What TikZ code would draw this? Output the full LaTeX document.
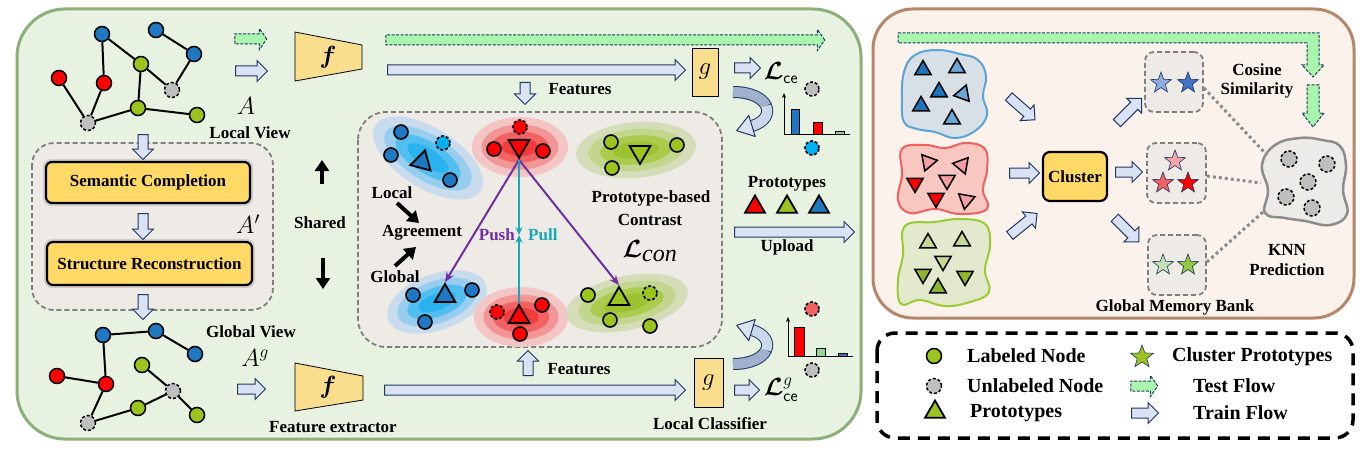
\documentclass[tikz,border=0pt]{standalone}
\usepackage{fontspec}
\setmainfont{Liberation Serif}
\usepackage{amsmath,bm}
\usetikzlibrary{shapes.arrows,shapes.geometric,arrows.meta,calc}
\definecolor{pgfill}{HTML}{E8F2E1}
\definecolor{pgline}{HTML}{8DB07A}
\definecolor{pbfill}{HTML}{FBF2EC}
\definecolor{pbline}{HTML}{B5866A}
\definecolor{navy}{HTML}{203864}
\definecolor{trainfill}{HTML}{DAE3F3}
\definecolor{testfill}{HTML}{A9F5AE}
\definecolor{ybox}{HTML}{FFD966}
\definecolor{fbox}{HTML}{F8DE8D}
\definecolor{boxgray}{HTML}{EEEAE5}
\definecolor{dgray}{HTML}{7F7F7F}
\definecolor{nblue}{HTML}{1F78C1}
\definecolor{nred}{HTML}{FF0000}
\definecolor{ngreen}{HTML}{9CC41E}
\definecolor{ngray}{HTML}{BFBFBF}
\definecolor{ncyan}{HTML}{00B0F0}
\definecolor{bluea}{HTML}{C8DCEE}
\definecolor{blueb}{HTML}{97CDEF}
\definecolor{bluec}{HTML}{52BEEF}
\definecolor{blued}{HTML}{2AB2EE}
\definecolor{reda}{HTML}{F3C5C5}
\definecolor{redb}{HTML}{F19595}
\definecolor{redc}{HTML}{F26262}
\definecolor{redd}{HTML}{F23C3C}
\definecolor{greena}{HTML}{D5DDB8}
\definecolor{greenb}{HTML}{C2D68E}
\definecolor{greenc}{HTML}{ABCB4E}
\definecolor{greend}{HTML}{9CC32F}
\definecolor{purp}{HTML}{7030A0}
\definecolor{tealc}{HTML}{17A9B8}
\definecolor{banddark}{HTML}{9FB1CD}
\definecolor{bandlight}{HTML}{CBD7EA}
\definecolor{lgreen}{HTML}{92D892}
\definecolor{mblue}{HTML}{4472C4}
\definecolor{lblue}{HTML}{8FAADC}
\definecolor{tdblue}{HTML}{1C75BC}
\definecolor{tlblue}{HTML}{6BA6D4}
\definecolor{tlred}{HTML}{F4A0A0}
\definecolor{tdgreen}{HTML}{8DB52D}
\definecolor{tlgreen}{HTML}{C4D88E}
\definecolor{blobblue}{HTML}{D6E0E6}
\definecolor{blobblueline}{HTML}{5BA3D9}
\definecolor{blobred}{HTML}{F8C8C0}
\definecolor{blobredline}{HTML}{F06060}
\definecolor{blobgreen}{HTML}{E2E9CC}
\definecolor{blobgreenline}{HTML}{99CC33}
\definecolor{knnfill}{HTML}{EDEBE8}
\definecolor{knnline}{HTML}{8C8C8C}
\definecolor{lstar}{HTML}{F4A6A6}
\definecolor{mstar}{HTML}{F06060}
\definecolor{lgstar}{HTML}{C5E0B4}
\definecolor{gstar}{HTML}{92C83E}
\definecolor{pinkc}{HTML}{F06464}
\tikzset{
 lbl/.style={font=\fontsize{17}{19}\selectfont\bfseries, inner sep=0},
 leg/.style={font=\fontsize{20}{22}\selectfont\bfseries, inner sep=0, anchor=west},
 gn/.style={circle, draw=black, line width=1.5, minimum size=15, inner sep=0},
 un/.style={gn, fill=ngray, dash pattern=on 3pt off 2pt},
 edge/.style={line width=2},
 cn/.style={circle, draw=black, line width=1.6, minimum size=14, inner sep=0},
 dn/.style={cn, dash pattern=on 3pt off 2pt},
 trainar/.style={single arrow, draw=navy, fill=trainfill, line width=1, inner sep=0, inner ysep=4.5, text height=0pt, text depth=0pt, single arrow head extend=5.5, single arrow tip angle=90},
 testar/.style={trainar, fill=testfill, dash pattern=on 3pt off 1.5pt, single arrow tip angle=110},
 tri/.style={regular polygon, regular polygon sides=3, draw=black, line width=1.8, inner sep=0, minimum size=24},
 rtri/.style={tri, minimum size=19, line width=1.5},
 starn/.style={star, star points=5, star point ratio=2.4, draw=navy, line width=0.6, inner sep=0, minimum size=22},
 dbox/.style={draw=dgray, dash pattern=on 5pt off 3pt, line width=1.8, fill=boxgray},
 ybx/.style={draw=black, fill=ybox, line width=2.2, rounded corners=6, inner sep=0},
 fg/.style={draw=black, fill=fbox, line width=0.8, inner sep=0},
 mth/.style={inner sep=0, font=\fontsize{27}{27}\selectfont},
 lossl/.style={inner sep=0, font=\fontsize{24}{24}\selectfont},
 bigar/.style={line width=4, -{Triangle[length=11,width=14]}},
 dotl/.style={knnline, line width=3, dash pattern=on 3pt off 3pt}
}
\newcommand\arr[6]{\node[#1, minimum height=#5, rotate=#6] (#2) at (#3,#4) {};}
\newcommand\clus[6]{\begin{scope}[shift={(#1,#2)},rotate=#5]
\fill[#6a] (0,0) ellipse [x radius=#3, y radius=#4];
\fill[#6b] (0,0) ellipse [x radius=0.8*#3, y radius=0.75*#4];
\fill[#6c] (0,0) ellipse [x radius=0.6*#3, y radius=0.52*#4];
\fill[#6d] (0,0) ellipse [x radius=0.38*#3, y radius=0.3*#4];
\end{scope}}
\newcommand\cesub{\text{\fontsize{17}{17}\selectfont\sffamily ce}}
\begin{document}
\begin{tikzpicture}[x=1pt,y=-1pt]
\useasboundingbox (0,0) rectangle (1366,452);
\fill[white] (0,0) rectangle (1366,452);
% panels
\draw[pgline, line width=3, fill=pgfill, rounded corners=48] (17,9) rectangle (861,439);
\draw[pbline, line width=3, fill=pbfill, rounded corners=40] (873,9) rectangle (1354,318);
\draw[black, line width=3.5, dash pattern=on 12pt off 8pt, rounded corners=18] (877,333) rectangle (1353,438);

% ---------- top local graph
\node[gn,fill=nblue] (tb1) at (102,34) {};
\node[gn,fill=nblue] (tb2) at (156,30) {};
\node[gn,fill=nblue] (tb3) at (194,54) {};
\node[gn,fill=ngreen] (tg1) at (141,64) {};
\node[gn,fill=nred] (tr1) at (59,78) {};
\node[gn,fill=nred] (tr2) at (104,83) {};
\node[un] (tu1) at (172,90) {};
\node[gn,fill=ngreen] (tg2) at (138,108) {};
\node[gn,fill=ngreen] (tg3) at (197,115) {};
\node[un] (tu2) at (88,123) {};
\draw[edge] (tb1)--(tg1) (tb1)--(tr2) (tg1)--(tu1) (tu1)--(tb3) (tb3)--(tb2) (tg1)--(tg2) (tg2)--(tg3) (tg2)--(tu2) (tu2)--(tr2) (tu2)--(tr1);
\node[mth] (mA) at (246,106) {$A$};
\node[lbl] (lv) at (250,133) {Local View};

% ---------- bottom global graph
\node[gn,fill=nblue] (bb1) at (103,335) {};
\node[gn,fill=nblue] (bb2) at (156,331) {};
\node[gn,fill=nblue] (bb3) at (195,354) {};
\node[gn,fill=nred] (br1) at (57,376) {};
\node[gn,fill=nred] (br2) at (106,384) {};
\node[gn,fill=ngreen] (bg1) at (142,365) {};
\node[un] (bu1) at (173,391) {};
\node[gn,fill=ngreen] (bg2) at (138,408) {};
\node[gn,fill=ngreen] (bg3) at (197,415) {};
\node[un] (bu2) at (88,423) {};
\draw[edge] (bb1)--(bb2) (bb2)--(bb3) (bb1)--(br2) (br1)--(br2) (br2)--(bu2) (bu2)--(bg2) (bg2)--(bu1) (bu1)--(bg1) (bu1)--(bg3);
\node[lbl] (gv) at (251,332) {Global View};
\node[mth] (mAg) at (255,358) {$A^{g}$};

% ---------- left middle box
\draw[dbox, rounded corners=22] (32,143) rectangle (273,310);
\fill[black, opacity=0.12, rounded corners=8] (43,159) rectangle (253,206);
\fill[black, opacity=0.12, rounded corners=8] (44,239) rectangle (255,288);
\node[ybx, minimum width=204, minimum height=41, lbl] (sc) at (148,182.5) {Semantic Completion};
\node[ybx, minimum width=205, minimum height=43, lbl] (sr) at (149.5,263.5) {Structure Reconstruction};
\node[mth] (mAp) at (248,224) {$A'$};
\arr{trainar}{d1}{143}{144.5}{25}{-90}
\arr{trainar}{d2}{143}{224}{26}{-90}
\arr{trainar}{d3}{143}{304.5}{25}{-90}

% ---------- shared
\node[lbl] (sh) at (320,223) {Shared};
\coordinate (sha1) at (322,184);
\coordinate (sha2) at (322,160);
\coordinate (shb1) at (323,258);
\coordinate (shb2) at (323,289);
\draw[bigar] (sha1) -- (sha2);
\draw[bigar] (shb1) -- (shb2);

% ---------- f extractors
\draw[fg] (295,32) -- (362,45) -- (362,69) -- (295,81) -- cycle;
\node[inner sep=0, font=\fontsize{28}{28}\selectfont] (f1) at (328,57) {$\bm{f}$};
\draw[fg] (295,363) -- (363,376) -- (363,400) -- (295,411) -- cycle;
\node[inner sep=0, font=\fontsize{28}{28}\selectfont] (f2) at (328,387) {$\bm{f}$};
\node[lbl] (fe) at (333,427) {Feature extractor};

% ---------- flows
\arr{testar}{ta1}{249}{39}{32}{0}
\arr{trainar}{a1}{249}{71}{32}{0}
\arr{trainar}{a2}{249}{389}{28}{0}
\arr{testar}{ta2}{603.5}{40}{439}{0}
\arr{trainar}{a3}{534}{70}{298}{0}
\arr{trainar}{a4}{532.5}{390}{301}{0}
\arr{trainar}{a5}{745}{68}{26}{0}
\arr{trainar}{a6}{744.5}{390}{25}{0}
\arr{trainar}{a7}{525}{91}{22}{-90}
\arr{trainar}{a8}{528}{365.5}{25}{90}
\arr{trainar}{a9}{792}{232}{120}{0}
\node[lbl] (ft1) at (580,89) {Features};
\node[lbl] (ft2) at (579,369) {Features};

% ---------- g classifiers
\node[fg, minimum width=26, minimum height=48, font=\fontsize{23}{23}\selectfont] (g1) at (705,72) {$g$};
\node[fg, minimum width=29, minimum height=49, font=\fontsize{23}{23}\selectfont] (g2) at (708.5,382.5) {$g$};
\node[lossl] (lce) at (781,73) {$\bm{\mathcal{L}}_{\cesub}$};
\node[lossl] (lceg) at (781,390) {$\bm{\mathcal{L}}^{\text{\fontsize{18}{18}\selectfont$g$}}_{\cesub}$};
\node[lbl] (lc) at (710,424) {Local Classifier};

% ---------- curved arrows
\draw[navy, line width=12] (733,92) .. controls (770,92) and (778,118) .. (752,126);
\draw[banddark, line width=10] (733,92) .. controls (751.5,92) and (762.75,98.5) .. (766.125,106);
\draw[bandlight, line width=10] (766.125,106) .. controls (769.5,113.5) and (765,122) .. (752,126);
\draw[navy, fill=trainfill, line width=1, line join=round] (736.7,130.7) -- (755.2,136.5) -- (748.8,115.5) -- cycle;
\draw[navy, line width=12] (733,364) .. controls (770,364) and (778,338) .. (752,330);
\draw[banddark, line width=10] (733,364) .. controls (751.5,364) and (762.75,357.5) .. (766.125,350);
\draw[bandlight, line width=10] (766.125,350) .. controls (769.5,342.5) and (765,334) .. (752,330);
\draw[navy, fill=trainfill, line width=1, line join=round] (736.7,325.3) -- (755.2,319.5) -- (748.8,340.5) -- cycle;

% ---------- bar charts
\draw[line width=1, -{Stealth[length=5,width=4]}] (784,134) -- (784,93);
\draw[line width=1] (784,134) -- (850,134);
\draw[fill=nblue, line width=0.7] (791,134) rectangle (799,109);
\draw[fill=nred, line width=0.7] (813,134) rectangle (822,122);
\draw[fill=lgreen, line width=0.7] (835,134) rectangle (844,131);
\node[un, minimum size=14] (bc1) at (812,89) {};
\node[dn, fill=ncyan] (bc2) at (812,148) {};
\draw[line width=1, -{Stealth[length=5,width=4]}] (788,356) -- (788,317);
\draw[line width=1] (788,356) -- (853,356);
\draw[fill=nred, line width=0.7] (794,356) rectangle (804,327);
\draw[fill=lgreen, line width=0.7] (816,356) rectangle (825,348);
\draw[fill=mblue, line width=0.7] (838,356) rectangle (847,353);
\node[dn, fill=pinkc] (bc3) at (812,309) {};
\node[un, minimum size=14] (bc4) at (812,370) {};

% ---------- prototypes / upload
\node[lbl] (pt) at (787,184) {Prototypes};
\node[tri, fill=nred, minimum size=23] (p1) at (755,207) {};
\node[tri, fill=ngreen, minimum size=23] (p2) at (787,207) {};
\node[tri, fill=nblue, minimum size=23] (p3) at (819,207) {};
\node[lbl] (up) at (787,247) {Upload};

% ---------- center contrast box
\draw[dbox, rounded corners=28] (358,112) rectangle (722,347);
\clus{428}{158}{62}{30}{-32}{blue}
\clus{520}{147}{48}{30}{0}{red}
\clus{636}{150}{60}{28}{5}{green}
\clus{437}{302}{52}{28}{20}{blue}
\clus{521}{317}{47}{30}{0}{red}
\clus{627}{303}{62}{27}{12}{green}
% top-left blue
\node[cn, fill=nblue] (c1) at (401,132) {};
\node[cn, fill=nblue] (c2) at (391,155) {};
\node[cn, fill=nblue] (c3) at (450,180) {};
\node[dn, fill=ncyan] (c4) at (443,143) {};
\node[tri, fill=nblue, rotate=105] (ttl) at (422,162) {};
% top-mid red
\node[dn, fill=nred] (c5) at (520,127) {};
\node[cn, fill=nred] (c6) at (494,149) {};
\node[cn, fill=nred] (c7) at (543,151) {};
\node[tri, fill=nred, rotate=180] (ttm) at (519,146) {};
% top-right green
\node[cn, fill=ngreen] (c8) at (611,142) {};
\node[cn, fill=ngreen] (c9) at (677,145) {};
\node[cn, fill=ngreen] (c10) at (612,168) {};
\node[tri, fill=ngreen, rotate=180] (ttr) at (640,152) {};
% bottom-left blue
\node[cn, fill=nblue] (c11) at (413,295) {};
\node[cn, fill=nblue] (c12) at (472,290) {};
\node[cn, fill=nblue] (c13) at (425,322) {};
\node[tri, fill=nblue] (tbl) at (445,296) {};
% bottom-mid red
\node[dn, fill=nred] (c14) at (497,312) {};
\node[cn, fill=nred] (c15) at (542,305) {};
\node[cn, fill=nred] (c16) at (520,334) {};
\node[tri, fill=nred] (tbm) at (519,317) {};
% bottom-right green
\node[cn, fill=ngreen] (c17) at (588,295) {};
\node[dn, fill=ngreen] (c18) at (650,293) {};
\node[cn, fill=ngreen] (c19) at (610,320) {};
\node[cn, fill=ngreen] (c20) at (650,326) {};
\node[tri, fill=ngreen] (tbr) at (619,299) {};
% push / pull
\coordinate (mid) at (519,235);
\draw[purp, line width=2, -{Stealth[length=10,width=8]}] (ttm.corner 1) -- (tbl.corner 1);
\draw[purp, line width=2, -{Stealth[length=10,width=8]}] (ttm.corner 1) -- (tbr.corner 1);
\draw[tealc, line width=2.5, -{Stealth[length=8,width=7]}] (ttm.corner 1) -- (mid);
\draw[tealc, line width=2.5, -{Stealth[length=8,width=7]}] (tbm.corner 1) -- (mid);
\node[lbl, text=purp, anchor=east] (push) at (515,235) {Push};
\node[lbl, text=tealc, anchor=west] (pull) at (528,235) {Pull};
\node[lbl] (loc) at (392,193) {Local};
\node[lbl] (agr) at (422,233) {Agreement};
\node[lbl] (glo) at (395,277) {Global};
\coordinate (la1) at (397,203);
\coordinate (la2) at (419,223);
\coordinate (ga1) at (395,266);
\coordinate (ga2) at (416,247);
\draw[bigar] (la1) -- (la2);
\draw[bigar] (ga1) -- (ga2);
\node[lbl] (pbc) at (651,198) {Prototype-based};
\node[lbl] (con) at (650,220) {Contrast};
\node[lossl] (lcon) at (650,251) {$\bm{\mathcal{L}}_{\textstyle\mathit{con}}$};

% ---------- right panel
\draw[navy, dash pattern=on 3pt off 1.5pt, line width=1, fill=testfill] (898,33) -- (1319,33) -- (1319,65) -- (1324,65) -- (1313,77) -- (1302,65) -- (1307,65) -- (1307,43) -- (898,43) -- cycle;
\draw[navy, dash pattern=on 3pt off 1.5pt, line width=1, fill=testfill] (1307,85) -- (1319,85) -- (1319,113) -- (1324,113) -- (1313,127) -- (1302,113) -- (1307,113) -- cycle;
\node[lbl] (cs1) at (1257,70) {Cosine};
\node[lbl] (cs2) at (1257,90) {Similarity};
% blobs
\draw[blobblueline, line width=2, fill=blobblue] plot[smooth cycle, tension=0.7] coordinates {(915,55) (937,50) (960,54) (978,60) (986,76) (983,96) (987,115) (975,131) (955,138) (935,132) (917,129) (904,122) (902,100) (904,72)};
\node[rtri, fill=tdblue] (bt1) at (923,70) {};
\node[rtri, fill=tlblue] (bt2) at (957,68) {};
\node[rtri, fill=tdblue] (bt3) at (939,92) {};
\node[rtri, fill=tlblue, rotate=100] (bt4) at (963,94) {};
\node[rtri, fill=tdblue] (bt5) at (921,106) {};
\node[rtri, fill=tlblue] (bt6) at (952,119) {};
\draw[blobredline, line width=2, fill=blobred] plot[smooth cycle, tension=0.7] coordinates {(902,149) (925,145) (945,148) (966,143) (985,149) (987,170) (983,190) (987,209) (960,214) (935,209) (910,213) (898,200) (902,175)};
\node[rtri, fill=tlred, rotate=160] (rt1) at (928,162) {};
\node[rtri, fill=tlred, rotate=200] (rt2) at (962,165) {};
\node[rtri, fill=nred, rotate=180] (rt3) at (915,183) {};
\node[rtri, fill=tlred, rotate=180] (rt4) at (947,180) {};
\node[rtri, fill=nred, rotate=180] (rt5) at (936,198) {};
\node[rtri, fill=tlred, rotate=170] (rt6) at (966,200) {};
\draw[blobgreenline, line width=2, fill=blobgreen] plot[smooth cycle, tension=0.7] coordinates {(905,226) (935,222) (960,219) (985,224) (990,245) (985,270) (989,292) (970,302) (945,306) (920,300) (901,304) (898,280) (903,255)};
\node[rtri, fill=tlgreen] (gt1) at (928,243) {};
\node[rtri, fill=tlgreen] (gt2) at (962,241) {};
\node[rtri, fill=tlgreen, rotate=180] (gt3) at (943,261) {};
\node[rtri, fill=tdgreen, rotate=180] (gt4) at (923,274) {};
\node[rtri, fill=tdgreen, rotate=180] (gt5) at (965,276) {};
\node[rtri, fill=tdgreen] (gt6) at (938,288) {};
% cluster
\node[ybx, minimum width=64, minimum height=49, lbl, rounded corners=7] (clu) at (1075,176.5) {Cluster};
\arr{trainar}{r1}{1020}{106.5}{35}{-41.5}
\arr{trainar}{r2}{1022}{173}{30}{0}
\arr{trainar}{r3}{1021.5}{226}{35}{39}
\arr{trainar}{r4}{1127.5}{112.5}{35}{45}
\arr{trainar}{r5}{1126.5}{172}{27}{0}
\arr{trainar}{r6}{1125}{228}{34}{-45}
% star boxes
\node[dbox, rounded corners=9, minimum width=58, minimum height=60, inner sep=0] (sb1) at (1174,82) {};
\node[dbox, rounded corners=9, minimum width=59, minimum height=60, inner sep=0] (sb2) at (1176.5,173) {};
\node[dbox, rounded corners=9, minimum width=58, minimum height=60, inner sep=0] (sb3) at (1177,265) {};
\node[starn, fill=lblue] (s1) at (1161,83) {};
\node[starn, fill=mblue] (s2) at (1188,83) {};
\node[starn, fill=lstar] (s3) at (1175,161) {};
\node[starn, fill=mstar] (s4) at (1163,183) {};
\node[starn, fill=nred] (s5) at (1188,183) {};
\node[starn, fill=lgstar] (s6) at (1163,265) {};
\node[starn, fill=gstar] (s7) at (1188,265) {};
\node[lbl] (gmb) at (1175,307) {Global Memory Bank};
% knn
\draw[knnline, line width=2.5, fill=knnfill] plot[smooth cycle, tension=0.7] coordinates {(1275,145) (1300,138) (1322,140) (1340,146) (1346,166) (1343,190) (1347,214) (1330,225) (1305,221) (1285,218) (1265,213) (1268,190) (1262,165)};
\node[un, minimum size=16] (k1) at (1289,159) {};
\node[un, minimum size=16] (k2) at (1327,164) {};
\node[un, minimum size=16] (k3) at (1308,182) {};
\node[un, minimum size=16] (k4) at (1286,197) {};
\node[un, minimum size=16] (k5) at (1312,208) {};
\coordinate (kn1) at (1267,155);
\coordinate (kn2) at (1261,183);
\coordinate (kn3) at (1263,212);
\draw[dotl] (sb1.east) ++(0,6) -- (kn1);
\draw[dotl] (sb2.east) ++(0,3) -- (kn2);
\draw[dotl] (sb3.east) ++(0,-3) -- (kn3);
\node[lbl] (knn1) at (1287,250) {KNN};
\node[lbl] (knn2) at (1287,270) {Prediction};

% ---------- legend
\node[gn, fill=ngreen] (lg1) at (934,356) {};
\node[leg] (lt1) at (967,356) {Labeled Node};
\node[un] (lg2) at (934,386) {};
\node[leg] (lt2) at (967,386) {Unlabeled Node};
\node[tri, fill=ngreen, minimum size=23] (lg3) at (935,412) {};
\node[leg] (lt3) at (970,413) {Prototypes};
\node[starn, fill=ngreen, minimum size=24] (lg4) at (1142,357) {};
\node[leg] (lt4) at (1172,357) {Cluster Prototypes};
\arr{testar}{lg5}{1142.5}{386}{27}{0}
\node[leg] (lt5) at (1193,386) {Test Flow};
\arr{trainar}{lg6}{1142.5}{413}{27}{0}
\node[leg] (lt6) at (1193,413) {Train Flow};
\end{tikzpicture}
\end{document}
